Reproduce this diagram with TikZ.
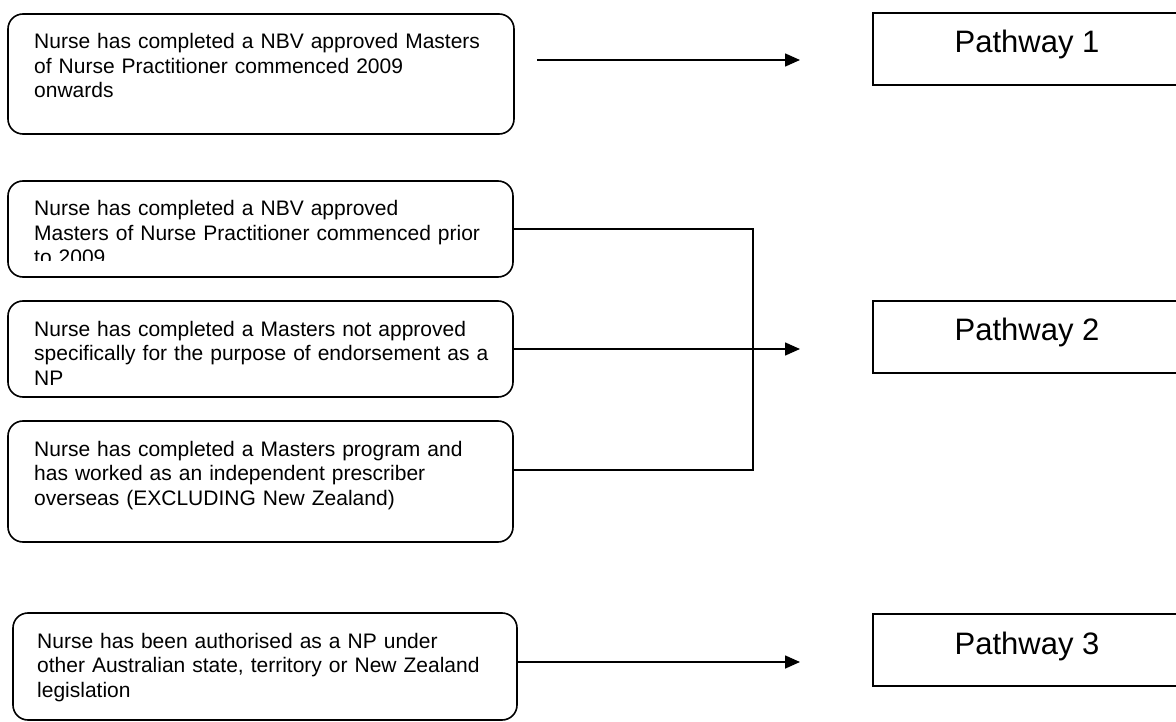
\documentclass[tikz,border=0pt]{standalone}
\usepackage{fontspec}
\setmainfont{Liberation Sans}
\usetikzlibrary{arrows.meta}
\begin{document}
\begin{tikzpicture}[x=1pt,y=-1pt,
  cond/.style={draw, rounded corners=15pt, line width=1.6pt, inner sep=0pt},
  ctext/.style={anchor=base west, inner sep=0pt, text width=480pt, align=left, font=\fontsize{21}{24.5}\selectfont},
  pbox/.style={draw, line width=1.6pt, inner sep=0pt},
  ptext/.style={anchor=base, inner sep=0pt, font=\fontsize{31}{36}\selectfont},
  conn/.style={line width=1.6pt},
  arr/.style={conn, -{Triangle[length=15pt,width=13pt]}}]
\useasboundingbox (0,0) rectangle (1176,722);

% condition boxes
\node[cond, minimum width=506pt, minimum height=120pt] (c1) at (261,74) {};
\node[cond, minimum width=505pt, minimum height=96pt] (c2) at (260.5,229) {};
\node[cond, minimum width=505pt, minimum height=96pt] (c3) at (260.5,349) {};
\node[cond, minimum width=505pt, minimum height=121pt] (c4) at (260.5,481.5) {};
\node[cond, minimum width=504pt, minimum height=107pt] (c5) at (265,666.5) {};

\node[ctext] (t1) at (34,49) {Nurse has completed a NBV approved Masters\\of Nurse Practitioner commenced 2009\\onwards};
\begin{scope}
\clip (0,0) rectangle (520,261);
\node[ctext] (t2) at (34,216) {Nurse has completed a NBV approved\\Masters of Nurse Practitioner commenced prior\\to 2009};
\end{scope}
\node[ctext] (t3) at (34,336) {Nurse has completed a Masters not approved\\specifically for the purpose of endorsement as a\\NP};
\node[ctext] (t4) at (34,456) {Nurse has completed a Masters program and\\has worked as an independent prescriber\\overseas (EXCLUDING New Zealand)};
\node[ctext] (t5) at (37,648) {Nurse has been authorised as a NP under\\other Australian state, territory or New Zealand\\legislation};

% pathway boxes
\node[pbox, minimum width=317pt, minimum height=72pt] (p1) at (1031.5,49) {};
\node[pbox, minimum width=317pt, minimum height=72pt] (p2) at (1031.5,337) {};
\node[pbox, minimum width=317pt, minimum height=72pt] (p3) at (1031.5,650) {};
\node[ptext] (l1) at (1027,53) {Pathway 1};
\node[ptext] (l2) at (1027,341) {Pathway 2};
\node[ptext] (l3) at (1027,654) {Pathway 3};

% connectors
\coordinate (s1) at (537,60);
\coordinate (e1) at (800,60);
\draw[arr] (s1) -- (e1);

\coordinate (j1) at (753,229);
\coordinate (j2) at (753,470);
\draw[conn] (c2.east) -- (j1) -- (j2) -- (c4.east |- j2);

\coordinate (e2) at (800,349);
\draw[arr] (c3.east) -- (e2);

\coordinate (e3) at (800,662);
\draw[arr] (c5.east |- e3) -- (e3);
\end{tikzpicture}
\end{document}
